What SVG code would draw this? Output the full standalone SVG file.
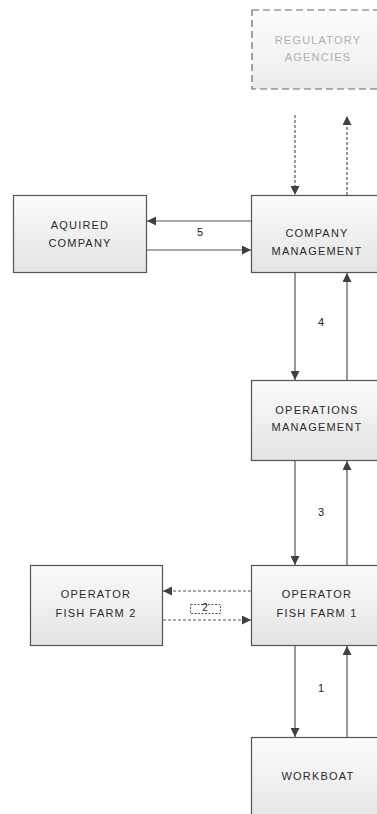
<svg xmlns="http://www.w3.org/2000/svg" width="377" height="814" viewBox="0 0 377 814">
<defs>
<linearGradient id="g" x1="0" y1="0" x2="0" y2="1"><stop offset="0" stop-color="#fbfbfb"/><stop offset="1" stop-color="#e4e4e4"/></linearGradient>
<linearGradient id="g2" x1="0" y1="0" x2="0" y2="1"><stop offset="0" stop-color="#fdfdfd"/><stop offset="1" stop-color="#ececec"/></linearGradient>
<marker id="ah" viewBox="0 0 10 10" refX="10" refY="5" markerWidth="9" markerHeight="9" markerUnits="userSpaceOnUse" orient="auto"><path d="M0,0 L10,5 L0,10 z" fill="#404040"/></marker>
</defs>
<style>
.box{fill:url(#g);stroke:#555;stroke-width:1.2}
.reg{fill:url(#g2);stroke:#666;stroke-width:1.2;stroke-dasharray:7,4}
.t{font-family:"Liberation Sans",Arial,sans-serif;font-size:11px;letter-spacing:1.2px;fill:#2a2a2a;text-anchor:middle}
.tg{fill:#b0b0b0}
.c{stroke:#555;stroke-width:1.2;fill:none;marker-end:url(#ah)}
.d{stroke-dasharray:3,2}
.n{font-family:"Liberation Sans",Arial,sans-serif;font-size:11px;fill:#222;text-anchor:middle}
.lb{fill:none;stroke:#555;stroke-width:1;stroke-dasharray:2,1.5}
</style>
<g id="regulatory"><rect class="reg" x="252" y="10" width="133" height="79"/><text class="t tg" x="318" y="44">REGULATORY</text><text class="t tg" x="318" y="61">AGENCIES</text></g>
<g id="company"><rect class="box" x="251.5" y="195.5" width="134" height="77"/><text class="t" x="317" y="237">COMPANY</text><text class="t" x="317" y="255">MANAGEMENT</text></g>
<g id="aquired"><rect class="box" x="13.5" y="195.5" width="133" height="77"/><text class="t" x="80" y="229">AQUIRED</text><text class="t" x="80" y="247">COMPANY</text></g>
<g id="operations"><rect class="box" x="251.5" y="380.5" width="134" height="80"/><text class="t" x="317" y="414">OPERATIONS</text><text class="t" x="317" y="431">MANAGEMENT</text></g>
<g id="farm1"><rect class="box" x="251.5" y="565.5" width="134" height="80"/><text class="t" x="317" y="598">OPERATOR</text><text class="t" x="317" y="617">FISH FARM 1</text></g>
<g id="farm2"><rect class="box" x="30.5" y="565.5" width="132" height="80"/><text class="t" x="96" y="598">OPERATOR</text><text class="t" x="96" y="617">FISH FARM 2</text></g>
<g id="workboat"><rect class="box" x="251.5" y="737.5" width="134" height="90"/><text class="t" x="318" y="780">WORKBOAT</text></g>
<g id="connectors">
<line class="c d" x1="295" y1="115" x2="295" y2="195"/>
<line class="c d" x1="347" y1="195" x2="347" y2="116"/>
<line class="c" x1="251" y1="221" x2="147" y2="221"/>
<line class="c" x1="147" y1="250" x2="251" y2="250"/>
<text class="n" x="200" y="236">5</text>
<line class="c" x1="295" y1="273" x2="295" y2="380"/>
<line class="c" x1="347" y1="380" x2="347" y2="273"/>
<text class="n" x="321" y="326">4</text>
<line class="c" x1="295" y1="461" x2="295" y2="565"/>
<line class="c" x1="347" y1="565" x2="347" y2="461"/>
<text class="n" x="321" y="516">3</text>
<line class="c d" x1="251" y1="591" x2="163" y2="591"/>
<line class="c d" x1="163" y1="620" x2="251" y2="620"/>
<rect class="lb" x="190.5" y="604.5" width="30" height="9"/>
<text class="n" x="205" y="611" style="font-size:10px">2</text>
<line class="c" x1="295" y1="646" x2="295" y2="737"/>
<line class="c" x1="347" y1="737" x2="347" y2="646"/>
<text class="n" x="321" y="692">1</text>
</g>
</svg>
